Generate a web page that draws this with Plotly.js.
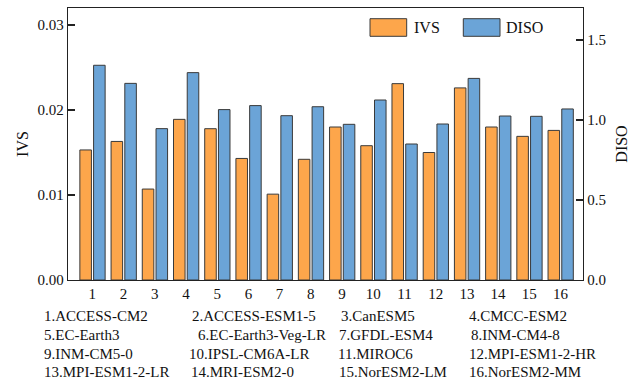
<!DOCTYPE html>
<html>
<head>
<meta charset="utf-8">
<script src="https://cdn.plot.ly/plotly-3.0.1.min.js"></script>
<style>html,body{margin:0;padding:0;background:#fff;}#chart{width:630px;height:384px;}</style>
</head>
<body>
<div id="chart"></div>
<script>
const categories = [1,2,3,4,5,6,7,8,9,10,11,12,13,14,15,16];
const ivs = [0.0153,0.0163,0.0107,0.0189,0.0178,0.0143,0.0101,0.0142,0.0180,0.0158,0.0231,0.0150,0.0226,0.0180,0.0169,0.0176];
const diso = [1.342,1.229,0.946,1.296,1.065,1.090,1.027,1.083,0.973,1.125,0.850,0.975,1.260,1.025,1.023,1.069];
const models = ["ACCESS-CM2","ACCESS-ESM1-5","CanESM5","CMCC-ESM2","EC-Earth3","EC-Earth3-Veg-LR","GFDL-ESM4","INM-CM4-8","INM-CM5-0","IPSL-CM6A-LR","MIROC6","MPI-ESM1-2-HR","MPI-ESM1-2-LR","MRI-ESM2-0","NorESM2-LM","NorESM2-MM"];
const leftTicks = [0, 0.01, 0.02, 0.03];
const rightTicks = [0, 0.5, 1.0, 1.5];

const FONT = "Liberation Serif, Times New Roman, serif";
const orange = "#FDA64B";
const blue = "#6BA4D7";
const edge = "#3a3a3a";

// plot area in pixels
const L = 68, R = 583, T = 8, B = 280;
const px = x => (x - L) / (R - L);
const py = y => (B - y) / (B - T);

const traces = [
  {type:"bar", x:categories, y:ivs, name:"IVS", yaxis:"y", offset:-0.40, width:0.37,
   marker:{color:orange, line:{color:edge, width:1}}, showlegend:false},
  {type:"bar", x:categories, y:diso, name:"DISO", yaxis:"y2", offset:0.04, width:0.37,
   marker:{color:blue, line:{color:edge, width:1}}, showlegend:false}
];

// model list positions (column left edges per row, pixels)
const colX = [
  [42, 190, 339, 467],
  [42, 196, 337, 469],
  [42, 187, 336, 467],
  [42, 189, 337, 467]
];
const rowY = [316, 335, 353.5, 372];

const annotations = [];
models.forEach((m, i) => {
  const r = Math.floor(i / 4), c = i % 4;
  annotations.push({xref:"paper", yref:"paper", x:px(colX[r][c]), y:py(rowY[r]),
    xanchor:"left", yanchor:"middle", showarrow:false, text:(i+1)+"."+m,
    font:{family:FONT, size:15, color:"#111"}});
});
annotations.push({xref:"paper", yref:"paper", x:px(411.5), y:py(28), xanchor:"left", yanchor:"middle",
  showarrow:false, text:"IVS", font:{family:FONT, size:16, color:"#111"}});
annotations.push({xref:"paper", yref:"paper", x:px(504), y:py(28), xanchor:"left", yanchor:"middle",
  showarrow:false, text:"DISO", font:{family:FONT, size:16, color:"#111"}});

const shapes = [
  {type:"rect", xref:"paper", yref:"paper", x0:px(370), x1:px(406.7), y0:py(36.3), y1:py(18.7),
   fillcolor:orange, line:{color:edge, width:1}},
  {type:"rect", xref:"paper", yref:"paper", x0:px(463.3), x1:px(500), y0:py(36.3), y1:py(18.7),
   fillcolor:blue, line:{color:edge, width:1}}
];

const layout = {
  width:630, height:384,
  margin:{l:L, r:630-R, t:T, b:384-B, pad:0},
  paper_bgcolor:"#fff", plot_bgcolor:"#fff",
  font:{family:FONT, size:15, color:"#111"},
  bargap:0,
  xaxis:{range:[0.22,16.72], tickmode:"array", tickvals:categories, ticktext:categories.map(String),
    ticks:"", showline:true, linecolor:"#222", linewidth:1.3, mirror:true, showgrid:false, zeroline:false,
    tickfont:{family:FONT, size:15, color:"#111"}},
  yaxis:{range:[0,0.032], tickmode:"array", tickvals:leftTicks, ticktext:leftTicks.map(v=>v.toFixed(2)),
    ticks:"inside", ticklen:7, tickwidth:1.2, tickcolor:"#222", showline:true, linecolor:"#222", linewidth:1.3,
    showgrid:false, zeroline:false, tickfont:{family:FONT, size:15, color:"#111"},
    title:{text:"IVS", font:{family:FONT, size:16, color:"#111"}, standoff:5}},
  yaxis2:{range:[0,1.7], overlaying:"y", side:"right", tickmode:"array", tickvals:rightTicks,
    ticktext:rightTicks.map(v=>v.toFixed(1)),
    ticks:"inside", ticklen:7, tickwidth:1.2, tickcolor:"#222", showline:true, linecolor:"#222", linewidth:1.3,
    showgrid:false, zeroline:false, tickfont:{family:FONT, size:15, color:"#111"},
    title:{text:"DISO", font:{family:FONT, size:16, color:"#111"}, standoff:10}},
  annotations:annotations,
  shapes:shapes,
  showlegend:false
};

Plotly.newPlot("chart", traces, layout, {displayModeBar:false, staticPlot:true});
</script>
</body>
</html>
